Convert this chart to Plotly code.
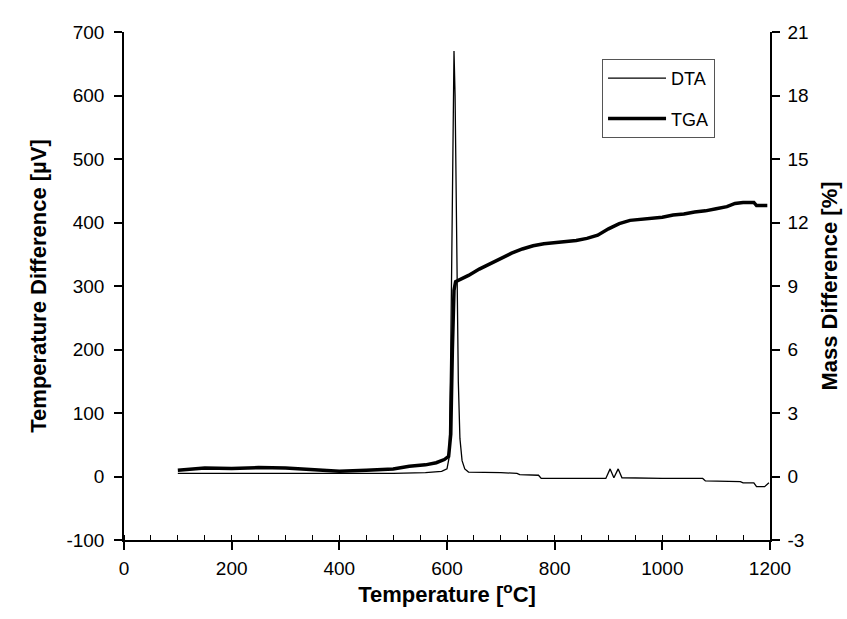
import plotly.graph_objects as go

# DTA (left axis, µV)
dta_temp = [100, 200, 300, 400, 500, 560, 590, 600, 604, 607, 610, 612, 613, 615, 617, 619, 621,
            624, 628, 633, 640, 700, 730, 735, 770, 775, 895, 903, 910, 918, 925, 1000, 1075,
            1080, 1145, 1150, 1170, 1175, 1190, 1198]
dta_val = [5, 5, 5, 4, 5, 6, 8, 12, 30, 200, 500, 640, 670, 600, 450, 300, 150,
           60, 25, 12, 7, 6, 5, 3, 2, -3, -3, 12, -2, 12, -2, -3, -3,
           -7, -8, -10, -10, -16, -16, -10]

# TGA (right axis, %)
tga_temp = [100, 150, 200, 250, 300, 350, 400, 450, 500, 530, 560, 580, 595, 603, 607, 610, 613,
            616, 625, 640, 660, 680, 700, 720, 740, 760, 780, 800, 820, 840, 860, 880, 900,
            920, 940, 960, 980, 1000, 1020, 1040, 1060, 1080, 1100, 1120, 1135, 1150, 1170,
            1175, 1195]
tga_val = [0.30, 0.40, 0.38, 0.42, 0.40, 0.33, 0.25, 0.30, 0.35, 0.48, 0.55, 0.65, 0.80, 0.95, 2.0, 6.0, 8.8,
           9.2, 9.3, 9.5, 9.8, 10.05, 10.3, 10.55, 10.75, 10.9, 11.0, 11.05, 11.1, 11.15, 11.25, 11.4, 11.7,
           11.95, 12.1, 12.15, 12.2, 12.25, 12.35, 12.4, 12.5, 12.55, 12.65, 12.75, 12.9, 12.95, 12.95,
           12.8, 12.8]

x_ticks = [0, 200, 400, 600, 800, 1000, 1200]
left_ticks = [-100, 0, 100, 200, 300, 400, 500, 600, 700]
left_labels = ["-100", "0", "100", "200", "300", "400", "500", "600", "700"]
right_ticks = [-3, 0, 3, 6, 9, 12, 15, 18, 21]
right_labels = ["-3", "0", "3", "6", "9", "12", "15", "18", "21"]

FONT = "Liberation Sans, Arial, sans-serif"
TICK_SIZE = 19
TITLE_SIZE = 22

fig = go.Figure()
fig.add_trace(go.Scatter(x=dta_temp, y=dta_val, mode="lines", name="DTA",
                         line=dict(color="black", width=1.3), legendgroup="a"))
fig.add_trace(go.Scatter(x=tga_temp, y=tga_val, mode="lines", name="TGA", yaxis="y2",
                         line=dict(color="black", width=3.5), legendgroup="b"))

axis_common = dict(showgrid=False, zeroline=False, linecolor="black", linewidth=1.5,
                   tickcolor="black", tickwidth=1.5, ticklen=8, automargin=False,
                   tickfont=dict(family=FONT, size=TICK_SIZE, color="black"))

fig.update_layout(
    width=847, height=619,
    margin=dict(l=124, r=77, t=32, b=79),
    paper_bgcolor="white", plot_bgcolor="white",
    font=dict(family=FONT, color="black"),
    showlegend=True,
    legend=dict(x=0.74, y=0.947, xanchor="left", yanchor="top",
                bordercolor="#555555", borderwidth=1, bgcolor="white",
                font=dict(family=FONT, size=18, color="black"),
                tracegroupgap=14, itemwidth=58),
    xaxis=dict(range=[0, 1200], tickvals=x_ticks, ticks="outside",
               showline=True, anchor="y", ticklabelstandoff=2,
               minor=dict(dtick=50, ticks="inside", ticklen=5, tickcolor="black", tickwidth=1.2),
               title=dict(text="Temperature [<sup>o</sup>C]",
                          font=dict(family=FONT, size=TITLE_SIZE, color="black", weight="bold"),
                          standoff=8),
               **axis_common),
    xaxis2=dict(range=[0, 1200], tickvals=x_ticks, ticks="inside", showticklabels=False,
                overlaying="x", anchor="y", showline=False, showgrid=False, zeroline=False,
                tickcolor="black", tickwidth=1.5, ticklen=8, automargin=False),
    yaxis=dict(range=[-100, 700], tickvals=left_ticks, ticktext=left_labels,
               ticks="outside", showline=True, ticklabelstandoff=6,
               title=dict(text="Temperature Difference [µV]",
                          font=dict(family=FONT, size=TITLE_SIZE, color="black", weight="bold"),
                          standoff=14),
               **axis_common),
    yaxis2=dict(range=[-3, 21], tickvals=right_ticks, ticktext=right_labels,
                ticks="outside", showline=True,
                side="right", overlaying="y", anchor="x", ticklabelstandoff=4,
                title=dict(text="Mass Difference [%]",
                           font=dict(family=FONT, size=TITLE_SIZE, color="black", weight="bold"),
                           standoff=14),
                **axis_common),
    yaxis3=dict(range=[-3, 21], tickvals=right_ticks, ticks="inside", showticklabels=False,
                side="right", overlaying="y", anchor="x", showline=False, showgrid=False,
                zeroline=False, tickcolor="black", tickwidth=1.5, ticklen=8, automargin=False),
)

fig.write_html("out.html")
